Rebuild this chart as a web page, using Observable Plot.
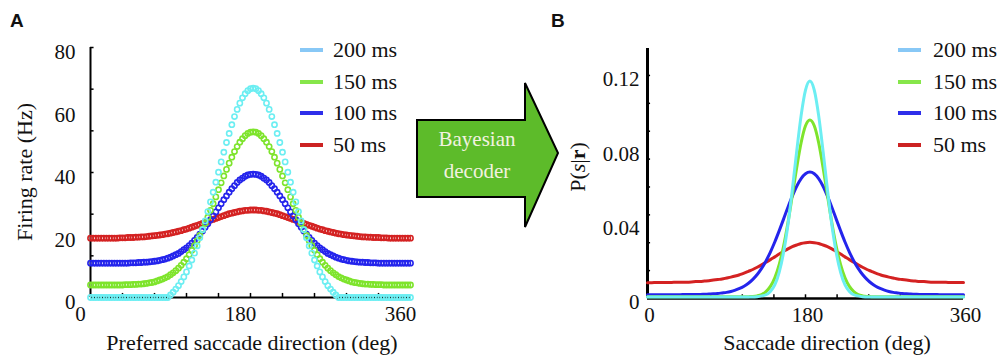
<!DOCTYPE html>
<html><head><meta charset="utf-8">
<script src="https://cdn.jsdelivr.net/npm/d3@7"></script>
<script src="https://cdn.jsdelivr.net/npm/@observablehq/plot@0.6"></script>
<style>
html,body{margin:0;padding:0;background:#fff;}
#wrap{position:relative;width:999px;height:360px;overflow:hidden;background:#fff;}
#wrap > svg{position:absolute;top:0;}
</style></head><body><div id="wrap"></div>
<script>
// ---------- data ----------
const seriesNames = ["200 ms", "150 ms", "100 ms", "50 ms"];
const curveColors = ["#6CEEF2", "#7EE42C", "#2424EC", "#D42222"];
const legendColors = ["#88C8F6", "#86E64A", "#2E2EEA", "#CC2222"];

// panel A: preferred direction sampled every 3 deg (0..360)
const anglesA = d3.range(0, 361, 3);
const rate200 = [
0,0,0,0,0,0,0,0,0,0, 0,0,0,0,0,0,0,0,0,0, 0,0,0,0,0,0,0,0,0,0,
0.8,1.7,2.7,3.8,5.1,6.6,8.2,10.1,12.0,14.2, 16.5,19.1,21.7,24.5,27.5,30.6,33.7,36.9,40.1,43.4,
46.5,49.6,52.5,55.3,57.9,60.2,62.2,63.9,65.2,66.2, 66.8,
67.0,
66.8,66.2,65.2,63.9,62.2,60.2,57.9,55.3,52.5,49.6, 46.5,43.4,40.1,36.9,33.7,30.6,27.5,24.5,21.7,19.1,
16.5,14.2,12.0,10.1,8.2,6.6,5.1,3.8,2.7,1.7, 0.8,
0,0,0,0,0,0,0,0,0,0, 0,0,0,0,0,0,0,0,0,0, 0,0,0,0,0,0,0,0];
const rate150 = [
4.0,4.0,4.0,4.0,4.0,4.0,4.0,4.0,4.0,4.0,4.0,4.0,4.0,
4.1,4.1,4.1,4.2,4.2,4.3,4.3,4.4,4.5,4.7, 4.8,5.0,5.3,5.6,5.9,6.3,6.7,7.3,7.9,8.6,
9.4,10.3,11.3,12.4,13.7,15.1,16.6,18.2,19.9,21.8, 23.7,25.7,27.9,30.0,32.2,34.5,36.7,38.9,41.0,43.0,
44.9,46.7,48.3,49.7,50.8,51.8,52.5,52.9,
53.0,
52.9,52.5,51.8,50.8,49.7,48.3,46.7,44.9, 43.0,41.0,38.9,36.7,34.5,32.2,30.0,27.9,25.7,23.7,
21.8,19.9,18.2,16.6,15.1,13.7,12.4,11.3,10.3,9.4, 8.6,7.9,7.3,6.7,6.3,5.9,5.6,5.3,5.0,4.8,
4.7,4.5,4.4,4.3,4.3,4.2,4.2,4.1,4.1,4.1,
4.0,4.0,4.0,4.0,4.0,4.0,4.0,4.0,4.0,4.0,4.0];
const rate100 = [
11.0,11.0,11.0,11.0,11.0,11.0,11.0,11.0,11.0,11.0,11.0,11.0,11.0,11.0,11.0,
11.1,11.1,11.1,11.2,11.2,11.3,11.3,11.4,11.5,11.6, 11.7,11.9,12.1,12.3,12.6,12.9,13.3,13.7,14.1,14.7,
15.3,15.9,16.6,17.4,18.3,19.2,20.3,21.3,22.5,23.6, 24.9,26.1,27.4,28.7,30.0,31.3,32.5,33.7,34.8,35.8,
36.8,37.6,38.2,38.8,39.2,39.4,
39.5,
39.4,39.2,38.8,38.2,37.6,36.8, 35.8,34.8,33.7,32.5,31.3,30.0,28.7,27.4,26.1,24.9,
23.6,22.5,21.3,20.3,19.2,18.3,17.4,16.6,15.9,15.3, 14.7,14.1,13.7,13.3,12.9,12.6,12.3,12.1,11.9,11.7,
11.6,11.5,11.4,11.3,11.3,11.2,11.2,11.1,11.1,11.1,
11.0,11.0,11.0,11.0,11.0,11.0,11.0,11.0,11.0,11.0,11.0,11.0,11.0];
const rate50 = [
19.0,19.0,19.0,19.0,19.0,19.0,19.0,19.0,19.0,19.0,19.0,
19.1,19.1,19.1,19.2,19.2,19.2,19.3,19.3,19.4,19.4, 19.5,19.6,19.7,19.8,19.9,20.0,20.1,20.3,20.4,20.6,
20.8,21.0,21.2,21.4,21.7,21.9,22.2,22.5,22.8,23.1, 23.4,23.7,24.0,24.3,24.7,25.0,25.3,25.6,25.9,26.2,
26.5,26.8,27.0,27.2,27.4,27.6,27.7,27.9,27.9,28.0,
28.0,
28.0,27.9,27.9,27.7,27.6,27.4,27.2,27.0,26.8,26.5, 26.2,25.9,25.6,25.3,25.0,24.7,24.3,24.0,23.7,23.4,
23.1,22.8,22.5,22.2,21.9,21.7,21.4,21.2,21.0,20.8, 20.6,20.4,20.3,20.1,20.0,19.9,19.8,19.7,19.6,19.5,
19.4,19.4,19.3,19.3,19.2,19.2,19.2,19.1,19.1,19.1,
19.0,19.0,19.0,19.0,19.0,19.0,19.0,19.0,19.0];

// panel B: saccade direction sampled every 5 deg (0..360)
const anglesB = d3.range(0, 361, 5);
const post200 = [
0.0008,0.0008,0.0008,0.0008,0.0008,0.0008,0.0008,0.0008,0.0008,0.0008,
0.0008,0.0008,0.0008,0.0008,0.0008,0.0008,0.0008,0.0008,0.0008,0.0008,
0.0008,0.0008,0.0008,0.0008,0.0008,
0.0010,0.0014,0.0020,0.0038,0.0073,0.0141,0.0247,0.0397,0.0586,0.0793,0.0984,0.1121,
0.1170,
0.1121,0.0984,0.0793,0.0586,0.0397,0.0247,0.0141,0.0073,0.0038,0.0020,0.0014,0.0010,
0.0008,0.0008,0.0008,0.0008,0.0008,0.0008,0.0008,0.0008,0.0008,0.0008,
0.0008,0.0008,0.0008,0.0008,0.0008,0.0008,0.0008,0.0008,0.0008,0.0008,0.0008,0.0008,0.0008];
const post150 = [
0.0009,0.0009,0.0009,0.0009,0.0009,0.0009,0.0009,0.0009,0.0009,0.0009,
0.0009,0.0009,0.0009,0.0009,0.0009,0.0009,0.0009,0.0009,0.0009,0.0009,0.0009,0.0009,0.0009,
0.0010,0.0011,0.0014,0.0021,0.0037,0.0065,0.0111,0.0182,0.0281,0.0408,0.0555,0.0705,0.0838,0.0929,
0.0960,
0.0929,0.0838,0.0705,0.0555,0.0408,0.0281,0.0182,0.0111,0.0065,0.0037,0.0021,0.0014,0.0011,0.0010,
0.0009,0.0009,0.0009,0.0009,0.0009,0.0009,0.0009,0.0009,0.0009,0.0009,
0.0009,0.0009,0.0009,0.0009,0.0009,0.0009,0.0009,0.0009,0.0009,0.0009,0.0009];
const post100 = [
0.0020,0.0020,0.0020,0.0020,0.0020,0.0020,0.0020,0.0020,
0.0021,0.0021,0.0021,0.0022,0.0022,0.0023,0.0024,0.0025,0.0027,0.0030,
0.0033,0.0038,0.0045,0.0054,0.0066,0.0082,0.0103,0.0129,0.0162,0.0202,
0.0250,0.0304,0.0364,0.0427,0.0491,0.0551,0.0604,0.0645,0.0671,
0.0680,
0.0671,0.0645,0.0604,0.0551,0.0491,0.0427,0.0364,0.0304,0.0250,
0.0202,0.0162,0.0129,0.0103,0.0082,0.0066,0.0054,0.0045,0.0038,0.0033,
0.0030,0.0027,0.0025,0.0024,0.0023,0.0022,0.0022,0.0021,0.0021,0.0021,
0.0020,0.0020,0.0020,0.0020,0.0020,0.0020];
const post50 = [
0.0085,0.0085,0.0086,0.0086,0.0086,0.0086,0.0087,0.0087,0.0088,0.0088,
0.0089,0.0091,0.0092,0.0094,0.0096,0.0099,0.0102,0.0105,0.0110,0.0115,
0.0121,0.0128,0.0136,0.0146,0.0156,0.0168,0.0181,0.0195,0.0209,0.0224,
0.0239,0.0253,0.0267,0.0279,0.0288,0.0296,0.0300,
0.0302,
0.0300,0.0296,0.0288,0.0279,0.0267,0.0253,0.0239,0.0224,0.0209,0.0195,
0.0181,0.0168,0.0156,0.0146,0.0136,0.0128,0.0121,0.0115,0.0110,0.0105,
0.0102,0.0099,0.0096,0.0094,0.0092,0.0091,0.0089,0.0088,0.0088,0.0087,
0.0087,0.0086,0.0086,0.0086,0.0086];

// tick values
const xTickLabels = [0, 180, 360];
const xMinorTicks = [36, 72, 108, 144, 180, 216, 252, 288, 324];
const yTickLabelsA = [0, 20, 40, 60, 80];
const yMinorTicksA = [80/6, 160/6, 240/6, 320/6, 400/6, 80];
const yTickLabelsB = [0, 0.04, 0.08, 0.12];
const yMinorTicksB = [0.015, 0.03, 0.045, 0.06, 0.075, 0.09, 0.105, 0.12];

const valuesA = [rate200, rate150, rate100, rate50];
const valuesB = [post200, post150, post100, post50];

const rowsA = seriesNames.map((s, i) => anglesA.map((a, j) => ({series: s, angle: a, value: valuesA[i][j]})));
const rowsB = seriesNames.map((s, i) => anglesB.map((a, j) => ({series: s, angle: a, value: valuesB[i][j]})));
const drawOrder = [3, 2, 1, 0];

const serif = "'Liberation Serif', 'Times New Roman', serif";
const wrap = document.getElementById("wrap");

// ---------- panel A ----------
const plotA = Plot.plot({
  width: 430, height: 360,
  marginLeft: 90, marginRight: 20, marginTop: 47, marginBottom: 63,
  style: {background: "transparent", fontFamily: serif, color: "#111", overflow: "visible"},
  x: {domain: [0, 360]},
  y: {domain: [0, 80]},
  marks: [
    Plot.ruleX([0], {stroke: "#000", strokeWidth: 2}),
    Plot.ruleY([0], {stroke: "#000", strokeWidth: 2}),
    Plot.ruleX(xMinorTicks, {y1: 0, y2: 1.3, stroke: "#000", strokeWidth: 1.5}),
    Plot.ruleY(yMinorTicksA, {x1: 0, x2: 4, stroke: "#000", strokeWidth: 1.5}),
    ...drawOrder.map(i => Plot.dot(rowsA[i], {x: "angle", y: "value", r: 2.6, stroke: curveColors[i], strokeWidth: 1.6, fill: "none"})),
    Plot.axisX({ticks: xTickLabels, tickSize: 0, tickPadding: 9, dx: -10, fontSize: 21, label: null, tickFormat: d => String(d)}),
    Plot.axisY({ticks: yTickLabelsA, tickSize: 0, tickPadding: 15, dy: 5, fontSize: 21, label: null, tickFormat: d => String(d)})
  ]
});
plotA.style.left = "0px";
wrap.appendChild(plotA);

// ---------- panel B ----------
const plotB = Plot.plot({
  width: 459, height: 360,
  marginLeft: 107, marginRight: 36, marginTop: 48, marginBottom: 62,
  style: {background: "transparent", fontFamily: serif, color: "#111", overflow: "visible"},
  x: {domain: [0, 360]},
  y: {domain: [0, 0.1345]},
  marks: [
    Plot.ruleY([0], {stroke: "#000", strokeWidth: 2.5}),
    Plot.ruleX([0], {stroke: "#000", strokeWidth: 3}),
    Plot.ruleX(xMinorTicks, {y1: 0, y2: 0.002, stroke: "#000", strokeWidth: 1.5}),
    Plot.ruleY(yMinorTicksB, {x1: 0, x2: 3.5, stroke: "#000", strokeWidth: 1.5}),
    ...drawOrder.map(i => Plot.line(rowsB[i], {x: "angle", y: "value", stroke: curveColors[i], strokeWidth: 3, curve: "monotone-x"})),
    Plot.axisX({ticks: xTickLabels, tickSize: 0, tickPadding: 9, dx: 2, fontSize: 21, label: null, tickFormat: d => String(d)}),
    Plot.axisY({ticks: yTickLabelsB, tickSize: 0, tickPadding: 8, dy: 4, fontSize: 21, label: null, tickFormat: d => d === 0 ? "0" : d.toFixed(2)})
  ]
});
plotB.style.left = "540px";
wrap.appendChild(plotB);

// ---------- overlay: arrow, legends, titles ----------
const svg = d3.select(wrap).append("svg")
  .attr("width", 999).attr("height", 360)
  .style("left", "0px").style("pointer-events", "none");

// arrow
svg.append("polygon")
  .attr("points", "417,120 525,120 525,83 558,153 525,227 525,197 417,197")
  .attr("fill", "#5DBB2A").attr("stroke", "#000").attr("stroke-width", 2).attr("stroke-linejoin", "miter");
const arrowText = ["Bayesian", "decoder"];
arrowText.forEach((t, i) => {
  svg.append("text").attr("x", 477).attr("y", 146 + i * 32)
    .attr("text-anchor", "middle").attr("font-family", serif).attr("font-size", 21)
    .attr("fill", "#F2F2E0").text(t);
});

// legends
const legendRowY = [50, 82, 113, 145];
[[300, 333], [898, 933]].forEach(([lx, tx]) => {
  seriesNames.forEach((s, i) => {
    svg.append("line").attr("x1", lx).attr("x2", lx + 23)
      .attr("y1", legendRowY[i]).attr("y2", legendRowY[i])
      .attr("stroke", legendColors[i]).attr("stroke-width", 4);
    svg.append("text").attr("x", tx).attr("y", legendRowY[i] + 7)
      .attr("font-family", serif).attr("font-size", 22).attr("fill", "#111").text(s);
  });
});

// panel letters
svg.append("text").attr("x", 10).attr("y", 27).attr("font-family", "'Liberation Sans', Arial, sans-serif")
  .attr("font-weight", "bold").attr("font-size", 19).attr("fill", "#111").text("A");
svg.append("text").attr("x", 551).attr("y", 27).attr("font-family", "'Liberation Sans', Arial, sans-serif")
  .attr("font-weight", "bold").attr("font-size", 19).attr("fill", "#111").text("B");

// axis titles
svg.append("text").attr("x", 252).attr("y", 350).attr("text-anchor", "middle")
  .attr("font-family", serif).attr("font-size", 22).attr("fill", "#111").text("Preferred saccade direction (deg)");
svg.append("text").attr("x", 827).attr("y", 350).attr("text-anchor", "middle")
  .attr("font-family", serif).attr("font-size", 22).attr("fill", "#111").text("Saccade direction (deg)");
svg.append("text").attr("transform", "translate(32,172) rotate(-90)").attr("text-anchor", "middle")
  .attr("font-family", serif).attr("font-size", 22).attr("fill", "#111").text("Firing rate (Hz)");
const py = svg.append("text").attr("transform", "translate(585,167) rotate(-90)").attr("text-anchor", "middle")
  .attr("font-family", serif).attr("font-size", 22).attr("fill", "#111");
py.append("tspan").text("P(");
py.append("tspan").attr("font-style", "italic").text("s");
py.append("tspan").text("|");
py.append("tspan").attr("font-weight", "bold").text("r");
py.append("tspan").text(")");
</script></body></html>
